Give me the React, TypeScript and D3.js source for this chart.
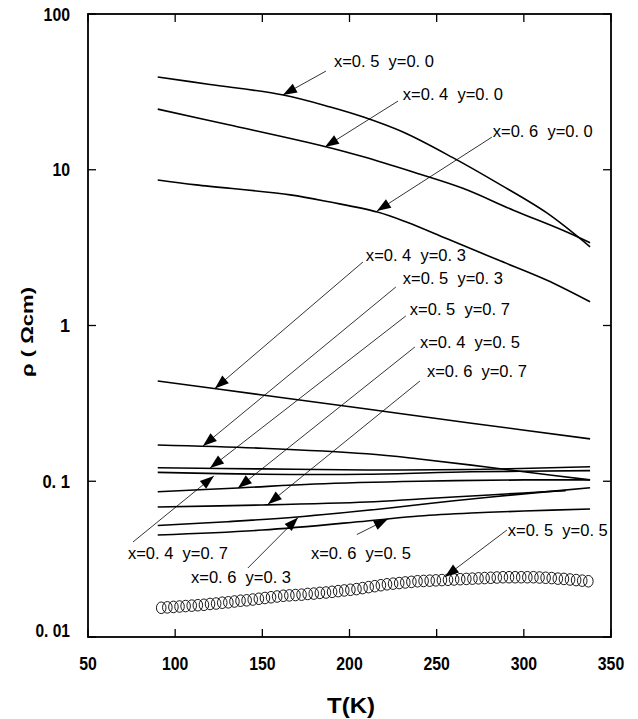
import React from 'react';
import * as d3 from 'd3';

const W = 638;
const H = 719;
const margin = { top: 14, right: 27, bottom: 82, left: 88 };

const xTicks = [50, 100, 150, 200, 250, 300, 350];
const xTickLabels = ['50', '100', '150', '200', '250', '300', '350'];
const yTicks = [100, 10, 1, 0.1, 0.01];
const yTickLabels = ['100', '10', '1', '0. 1', '0. 01'];

// resistivity curves, T in K, rho in ohm cm
const tX5Y0 = [90, 120, 162, 189, 208, 231, 259, 285, 313, 338];
const rX5Y0 = [39.4, 35.3, 30.2, 25.3, 21.8, 17.4, 12.0, 8.2, 5.3, 3.2];
const tX4Y0 = [90, 130, 187, 208, 236, 265, 294, 322, 338];
const rX4Y0 = [24.5, 19.5, 14.0, 12.1, 9.7, 7.6, 5.5, 4.1, 3.4];
const tX6Y0 = [90, 112, 166, 189, 216, 233, 256, 285, 313, 338];
const rX6Y0 = [8.6, 8.0, 6.9, 6.2, 5.35, 4.6, 3.6, 2.64, 1.96, 1.42];
const tX4Y3 = [90, 150, 210, 270, 338];
const rX4Y3 = [0.44, 0.358, 0.291, 0.236, 0.187];
const tX5Y3 = [90, 150, 210, 240, 270, 300, 338];
const rX5Y3 = [0.171, 0.163, 0.15, 0.139, 0.127, 0.115, 0.102];
const tX5Y7 = [90, 150, 210, 270, 338];
const rX5Y7 = [0.122, 0.12, 0.118, 0.119, 0.124];
const tX4Y7 = [90, 150, 210, 270, 338];
const rX4Y7 = [0.114, 0.111, 0.111, 0.115, 0.117];
const tX4Y5 = [90, 136, 180, 240, 300, 338];
const rX4Y5 = [0.0857, 0.0905, 0.096, 0.1, 0.102, 0.102];
const tX6Y7 = [90, 150, 210, 240, 270, 300, 324];
const rX6Y7 = [0.0684, 0.0704, 0.0736, 0.0769, 0.0804, 0.0841, 0.087];
const tX6Y3 = [90, 130, 170, 223, 260, 300, 338];
const rX6Y3 = [0.052, 0.055, 0.059, 0.0673, 0.075, 0.083, 0.0909];
const tX6Y5 = [90, 150, 210, 240, 270, 300, 338];
const rX6Y5 = [0.0452, 0.0486, 0.0556, 0.0598, 0.0625, 0.0644, 0.0663];

// x=0.5 y=0.5 (open circles)
const tX5Y5 = [92, 95.5, 99, 102.5, 106, 109.5, 113, 116.5, 120, 123.5, 127, 130.5, 134, 137.5,
  141, 144.5, 148, 151.5, 155, 158.5, 162, 165.5, 169, 172.5, 176, 179.5, 183, 186.5, 190,
  193.5, 197, 200.5, 204, 207.5, 211, 214.5, 218, 221.5, 225, 228.5, 232, 235.5, 239, 242.5,
  246, 249.5, 253, 256.5, 260, 263.5, 267, 270.5, 274, 277.5, 281, 284.5, 288, 291.5, 295,
  298.5, 302, 305.5, 309, 312.5, 316, 319.5, 323, 326.5, 330, 333.5, 337];
const rX5Y5 = [0.0154, 0.0155, 0.0156, 0.0157, 0.0158, 0.0159, 0.016, 0.0161, 0.0163, 0.0164,
  0.0166, 0.0167, 0.0169, 0.0171, 0.0172, 0.0174, 0.0176, 0.0178, 0.018, 0.0182, 0.0184,
  0.0185, 0.0186, 0.0187, 0.0189, 0.019, 0.0192, 0.0193, 0.0195, 0.0197, 0.0199, 0.0201,
  0.0203, 0.0206, 0.0209, 0.0212, 0.0215, 0.0218, 0.022, 0.0222, 0.0224, 0.0226, 0.0228,
  0.0229, 0.023, 0.0231, 0.0232, 0.0233, 0.0234, 0.0235, 0.0236, 0.0237, 0.0238, 0.0239,
  0.024, 0.0241, 0.0242, 0.0242, 0.0242, 0.0242, 0.0242, 0.0242, 0.0241, 0.024, 0.0239,
  0.0237, 0.0236, 0.0234, 0.0232, 0.023, 0.0228];

const curves = [
  { t: tX5Y0, r: rX5Y0 },
  { t: tX4Y0, r: rX4Y0 },
  { t: tX6Y0, r: rX6Y0 },
  { t: tX4Y3, r: rX4Y3 },
  { t: tX5Y3, r: rX5Y3 },
  { t: tX5Y7, r: rX5Y7 },
  { t: tX4Y7, r: rX4Y7 },
  { t: tX4Y5, r: rX4Y5 },
  { t: tX6Y7, r: rX6Y7 },
  { t: tX6Y3, r: rX6Y3 },
  { t: tX6Y5, r: rX6Y5 },
];

// annotations: text anchor, line start, arrow tip, all in data units
const labels = [
  { text: 'x=0. 5  y=0. 0', at: [191.1, 45.7], from: [186.5, 43.0], tip: [161.8, 30.2] },
  { text: 'x=0. 4  y=0. 0', at: [230.6, 28.0], from: [227.8, 27.6], tip: [185.9, 14.0] },
  { text: 'x=0. 6  y=0. 0', at: [282.2, 16.2], from: [281.7, 16.2], tip: [215.7, 5.43] },
  { text: 'x=0. 4  y=0. 3', at: [209.4, 2.595], from: [207.7, 2.557], tip: [122.8, 0.394] },
  { text: 'x=0. 5  y=0. 3', at: [230.6, 1.847], from: [226.6, 1.767], tip: [115.9, 0.1684] },
  { text: 'x=0. 5  y=0. 7', at: [234.6, 1.168], from: [232.3, 1.151], tip: [120.0, 0.1215] },
  { text: 'x=0. 4  y=0. 5', at: [240.4, 0.717], from: [237.5, 0.7278], tip: [136.0, 0.0905] },
  { text: 'x=0. 6  y=0. 7', at: [244.4, 0.467], from: [240.4, 0.44], tip: [153.2, 0.0712] },
  { text: 'x=0. 4  y=0. 7', at: [72.9, 0.03167], from: [75.8, 0.04074], tip: [122.2, 0.108] },
  { text: 'x=0. 6  y=0. 3', at: [109.1, 0.02222], from: [141.7, 0.02773], tip: [170.5, 0.0585] },
  { text: 'x=0. 6  y=0. 5', at: [177.9, 0.03167], from: [204.2, 0.04546], tip: [222.0, 0.0572] },
  { text: 'x=0. 5  y=0. 5', at: [290.8, 0.0445], from: [290.3, 0.04864], tip: [254.7, 0.0243] },
];

const FONT = "'Liberation Sans', Arial, sans-serif";

export default function App() {
  const x = d3.scaleLinear().domain([50, 350]).range([margin.left, W - margin.right]);
  const y = d3.scaleLog().domain([0.01, 100]).range([H - margin.bottom, margin.top]);
  const [x0, x1] = x.range();
  const [y0, y1] = y.range();

  const line = d3.line<[number, number]>()
    .x(d => x(d[0]))
    .y(d => y(d[1]))
    .curve(d3.curveCatmullRom.alpha(0.5));

  const arrowHead = (fx: number, fy: number, tx: number, ty: number) => {
    const a = Math.atan2(ty - fy, tx - fx);
    const len = 14, half = 5;
    const bx = tx - len * Math.cos(a), by = ty - len * Math.sin(a);
    const px = -Math.sin(a) * half, py = Math.cos(a) * half;
    return `M${tx},${ty}L${bx + px},${by + py}L${bx - px},${by - py}Z`;
  };

  return (
    <svg width={W} height={H} style={{ position: 'absolute', left: 0, top: 0, background: '#fff' }}>
      <rect x={0} y={0} width={W} height={H} fill="#fff" />
      <rect x={x0} y={y1} width={x1 - x0} height={y0 - y1} fill="none" stroke="#000" strokeWidth={1.8} />

      {xTicks.map((t, i) => (
        <g key={'xt' + i}>
          <line x1={x(t)} x2={x(t)} y1={y0} y2={y0 - 8} stroke="#000" strokeWidth={1.3} />
          <line x1={x(t)} x2={x(t)} y1={y1} y2={y1 + 8} stroke="#000" strokeWidth={1.3} />
          <text x={x(t)} y={670} textAnchor="middle" fontFamily={FONT} fontWeight="bold" fontSize={18}
            textLength={xTickLabels[i].length * 8.8} lengthAdjust="spacingAndGlyphs">{xTickLabels[i]}</text>
        </g>
      ))}
      {yTicks.map((t, i) => (
        <g key={'yt' + i}>
          <line x1={x0} x2={x0 + 8} y1={y(t)} y2={y(t)} stroke="#000" strokeWidth={1.3} />
          <line x1={x1} x2={x1 - 8} y1={y(t)} y2={y(t)} stroke="#000" strokeWidth={1.3} />
          <text x={70} y={Math.min(y(t) + 6.5, y0)} textAnchor="end" fontFamily={FONT} fontWeight="bold" fontSize={18}
            textLength={yTickLabels[i].length > 1 ? yTickLabels[i].length * (yTickLabels[i].includes('.') ? 6.9 : 8.8) : undefined}
            lengthAdjust="spacingAndGlyphs" style={{ whiteSpace: 'pre' }}>{yTickLabels[i]}</text>
        </g>
      ))}

      {curves.map((c, i) => (
        <path key={'c' + i} d={line(c.t.map((t, j) => [t, c.r[j]] as [number, number])) || ''}
          fill="none" stroke="#000" strokeWidth={1.6} />
      ))}

      {tX5Y5.map((t, i) => (
        <ellipse key={'o' + i} cx={x(t)} cy={y(rX5Y5[i])} rx={4.8} ry={5.8} fill="none" stroke="#000" strokeWidth={0.9} />
      ))}

      {labels.map((l, i) => {
        const fx = x(l.from[0]), fy = y(l.from[1]);
        const tx = x(l.tip[0]), ty = y(l.tip[1]);
        return (
          <g key={'l' + i}>
            <line x1={fx} y1={fy} x2={tx} y2={ty} stroke="#000" strokeWidth={0.8} />
            <path d={arrowHead(fx, fy, tx, ty)} fill="#000" />
            <text x={x(l.at[0])} y={y(l.at[1])} fontFamily={FONT} fontSize={16}
              textLength={100} lengthAdjust="spacingAndGlyphs" style={{ whiteSpace: 'pre' }}>{l.text}</text>
          </g>
        );
      })}

      <text x={351} y={713} textAnchor="middle" fontFamily={FONT} fontWeight="bold" fontSize={22}
        textLength={48} lengthAdjust="spacingAndGlyphs">T(K)</text>
      <text transform="translate(33,332) rotate(-90)" textAnchor="middle" fontFamily={FONT} fontWeight="bold"
        fontSize={17} textLength={90} lengthAdjust="spacingAndGlyphs" style={{ whiteSpace: 'pre' }}>ρ ( Ωcm)</text>
    </svg>
  );
}
